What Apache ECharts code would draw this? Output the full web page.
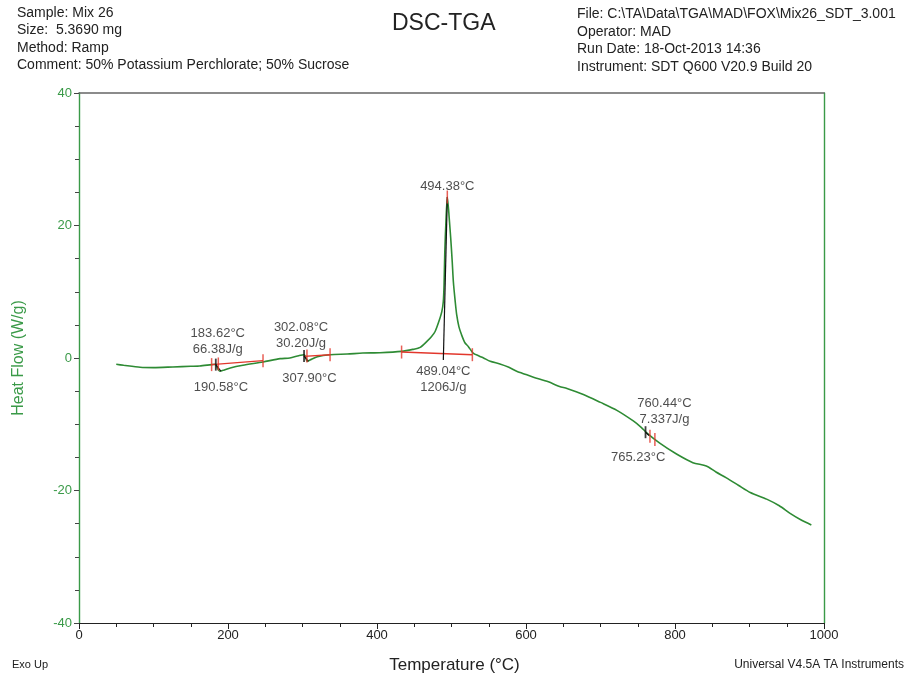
<!DOCTYPE html>
<html>
<head>
<meta charset="utf-8">
<script src="https://cdn.jsdelivr.net/npm/echarts@6/dist/echarts.min.js"></script>
<style>
  html, body { margin: 0; padding: 0; background: #fff; }
  #chart { width: 907px; height: 679px; }
</style>
</head>
<body>
<div id="chart"></div>
<script>
// Heat flow trace (DSC signal) against sample temperature
const tempC = [50, 60, 82, 100, 126, 150, 162, 178, 183.6, 186, 189, 195, 203, 220, 247, 270, 283, 295, 302, 304, 306, 310, 320, 337, 360, 381, 404, 433, 448, 458, 467, 473, 478, 483, 487, 489, 490, 491, 492.5, 494.38, 496, 497, 499, 501, 502.5, 505, 507, 510, 513.5, 518, 522.5, 529, 537, 543, 552, 565, 577, 587.5, 600, 610, 630, 645, 655, 677, 700, 722, 744, 755, 762, 780, 802, 824, 842, 855, 869, 885, 901, 923, 940, 955, 970, 983];
const heatFlow = [-0.95, -1.1, -1.4, -1.45, -1.35, -1.25, -1.2, -1.0, -0.95, -1.6, -2.0, -1.8, -1.5, -1.1, -0.6, -0.1, 0.0, 0.35, 0.5, 0.2, -0.5, -0.3, 0.2, 0.5, 0.6, 0.75, 0.8, 1.0, 1.3, 1.6, 2.5, 3.2, 4.0, 5.5, 7.0, 8.5, 11, 16, 20.5, 24.3, 22.5, 21, 18, 14.5, 11.5, 8.5, 6.5, 4.7, 3.5, 2.3, 1.75, 0.75, 0.3, 0.0, -0.5, -0.9, -1.4, -2.0, -2.5, -2.9, -3.6, -4.3, -4.6, -5.5, -6.7, -7.9, -9.5, -10.5, -11.3, -12.9, -14.5, -15.8, -16.3, -17.2, -18.1, -19.2, -20.3, -21.3, -22.3, -23.5, -24.5, -25.2];

// Integration baselines (start/end temperature and heat flow)
const baseStartT = [178, 302, 433];
const baseStartH = [-1.0, 0.25, 0.9];
const baseEndT = [247, 337, 528];
const baseEndH = [-0.4, 0.5, 0.5];

// Analysis results: onset, enthalpy, peak
const onsetT = [183.62, 302.08, 489.04, 760.44];
const onsetH = [-1.0, 0.3, -0.3, -11.2];
const enthalpy = ['66.38', '30.20', '1206', '7.337'];
const peakT = [190.58, 307.90, 494.38, 765.23];
const peakH = [-2.0, -0.5, 24.3, -11.7];

// Red limit markers on the trace
const limitT = [178, 187, 247, 306, 337, 433, 528, 494.38, 766.4, 773];
const limitH = [-1.0, -0.9, -0.4, 0.3, 0.5, 0.9, 0.5, 24.3, -11.8, -12.3];

// Axis ticks
const xTicks = [0, 200, 400, 600, 800, 1000];
const yTicks = [-40, -20, 0, 20, 40];

const headerLeft = ['Sample: Mix 26', 'Size:  5.3690 mg', 'Method: Ramp', 'Comment: 50% Potassium Perchlorate; 50% Sucrose'];
const headerRight = ['File: C:\\TA\\Data\\TGA\\MAD\\FOX\\Mix26_SDT_3.001', 'Operator: MAD', 'Run Date: 18-Oct-2013 14:36', 'Instrument: SDT Q600 V20.9 Build 20'];

const FONT = '"Liberation Sans", Arial, sans-serif';
const GREEN = '#3a9a48';
const TRACE = '#2e8b34';
const RED = '#e2372c';

const pairs = (a, b) => a.map((v, i) => [v, b[i]]);

const baselineSeries = baseStartT.map((t, i) => ({
  type: 'line', xAxisIndex: 0, yAxisIndex: 0, silent: true, symbol: 'none',
  lineStyle: { color: RED, width: 1.4 },
  data: [[t, baseStartH[i]], [baseEndT[i], baseEndH[i]]], z: 3
}));

const onsetLineSeries = onsetT.map((t, i) => ({
  type: 'line', xAxisIndex: 0, yAxisIndex: 0, silent: true, symbol: 'none',
  lineStyle: { color: '#111', width: 1.2 },
  data: [[t, onsetH[i]], [peakT[i], peakH[i]]], z: 4
}));

// label placement for each result (style only)
const onsetLabelStyle = [
  { position: 'top', distance: 7, offset: [2, 0] },
  { position: 'top', distance: 5, offset: [-3, 0] },
  { position: 'bottom', distance: 3, offset: [0, 0] },
  { position: 'top', distance: 5, offset: [19, 0] }
];
const peakLabelStyle = [
  { position: 'bottom', distance: 8, offset: [0, 0] },
  { position: 'bottom', distance: 9, offset: [1, 0] },
  { position: 'top', distance: 3, offset: [0, 0] },
  { position: 'bottom', distance: 14, offset: [-11, 0] }
];

const labelText = { color: '#222', fontFamily: FONT, fontSize: 13, lineHeight: 16 };

const chart = echarts.init(document.getElementById('chart'), null, { renderer: 'canvas' });

chart.setOption({
  animation: false,
  backgroundColor: '#fff',
  grid: { left: 79, right: 83, top: 93, bottom: 53, containLabel: false },
  xAxis: [
    {
      type: 'value', min: xTicks[0], max: xTicks[xTicks.length - 1], interval: 200,
      name: 'Temperature (°C)', nameLocation: 'middle', nameGap: 34,
      nameTextStyle: { color: '#222', fontFamily: FONT, fontSize: 17, padding: [0, 0, 0, 6] },
      axisLine: { show: true, onZero: false, lineStyle: { color: '#222', width: 1.2 } },
      axisTick: { show: true, length: 6, lineStyle: { color: '#222' } },
      minorTick: { show: true, splitNumber: 4, length: 4, lineStyle: { color: '#222' } },
      axisLabel: { color: '#222', fontFamily: FONT, fontSize: 13, margin: 6, formatter: v => String(v) },
      splitLine: { show: false }
    },
    {
      type: 'value', position: 'top', min: 0, max: 1000,
      axisLine: { show: true, onZero: false, lineStyle: { color: '#666', width: 1.5 } },
      axisTick: { show: false }, axisLabel: { show: false }, splitLine: { show: false }
    }
  ],
  yAxis: [
    {
      type: 'value', min: yTicks[0], max: yTicks[yTicks.length - 1], interval: 20,
      name: 'Heat Flow (W/g)', nameLocation: 'middle', nameGap: 52, nameRotate: 90,
      nameTextStyle: { color: GREEN, fontFamily: FONT, fontSize: 16 },
      axisLine: { show: true, onZero: false, lineStyle: { color: GREEN, width: 1.4 } },
      axisTick: { show: true, length: 5, lineStyle: { color: '#444' } },
      minorTick: { show: true, splitNumber: 4, length: 4, lineStyle: { color: '#444' } },
      axisLabel: { color: GREEN, fontFamily: FONT, fontSize: 13, margin: 7 },
      splitLine: { show: false }
    },
    {
      type: 'value', position: 'right', min: -40, max: 40,
      axisLine: { show: true, onZero: false, lineStyle: { color: GREEN, width: 1.4 } },
      axisTick: { show: false }, axisLabel: { show: false }, splitLine: { show: false }
    }
  ],
  series: [
    {
      name: 'Heat Flow', type: 'line', xAxisIndex: 0, yAxisIndex: 0,
      data: pairs(tempC, heatFlow), symbol: 'none', smooth: 0.25,
      lineStyle: { color: TRACE, width: 1.6 }, z: 2
    },
    ...baselineSeries,
    ...onsetLineSeries,
    {
      type: 'scatter', xAxisIndex: 0, yAxisIndex: 0, silent: true,
      symbol: 'rect', symbolSize: [1.5, 13], itemStyle: { color: RED },
      data: pairs(limitT, limitH), z: 5
    },
    {
      type: 'scatter', xAxisIndex: 0, yAxisIndex: 0, silent: true,
      symbol: 'rect', symbolSize: [1.8, 12], itemStyle: { color: '#111' },
      data: [0, 1, 3].map(i => [onsetT[i], onsetH[i]]), z: 6
    },
    {
      type: 'scatter', xAxisIndex: 0, yAxisIndex: 0, silent: true, symbolSize: 0,
      data: onsetT.map((t, i) => ({
        value: [t, onsetH[i]],
        label: Object.assign({ show: true, formatter: t.toFixed(2) + '°C\n' + enthalpy[i] + 'J/g' }, labelText, onsetLabelStyle[i])
      })), z: 7
    },
    {
      type: 'scatter', xAxisIndex: 0, yAxisIndex: 0, silent: true, symbolSize: 0,
      data: peakT.map((t, i) => ({
        value: [t, peakH[i]],
        label: Object.assign({ show: true, formatter: t.toFixed(2) + '°C' }, labelText, peakLabelStyle[i])
      })), z: 7
    }
  ],
  graphic: [
    ...headerLeft.map((s, i) => ({
      type: 'text', left: 17, top: 6 + i * 17.4,
      style: { text: s, fill: '#222', font: '14px ' + FONT }
    })),
    ...headerRight.map((s, i) => ({
      type: 'text', left: 577, top: 7 + i * 17.7,
      style: { text: s, fill: '#222', font: '14px ' + FONT }
    })),
    {
      type: 'text', left: 392, top: 12,
      style: { text: 'DSC-TGA', fill: '#222', font: '23px ' + FONT }
    },
    {
      type: 'text', left: 12, top: 659,
      style: { text: 'Exo Up', fill: '#222', font: '11px ' + FONT }
    },
    {
      type: 'text', right: 3, top: 659,
      style: { text: 'Universal V4.5A TA Instruments', fill: '#222', font: '12px ' + FONT }
    }
  ]
});
</script>
</body>
</html>
